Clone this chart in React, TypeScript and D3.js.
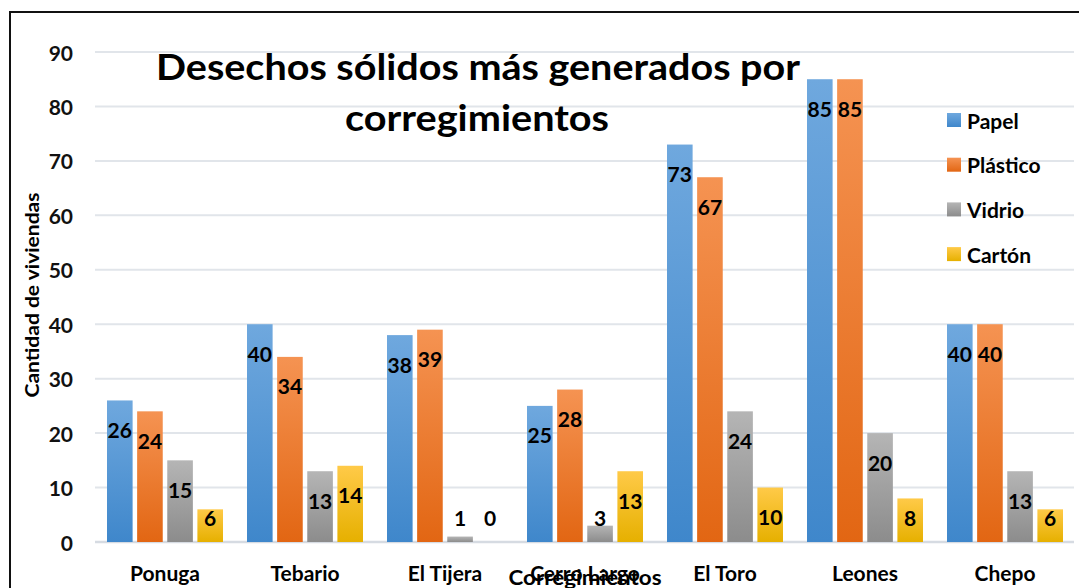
import React from "react";
import * as d3 from "d3";

const categories = ["Ponuga", "Tebario", "El Tijera", "Cerro Largo", "El Toro", "Leones", "Chepo"];
const seriesNames = ["Papel", "Plástico", "Vidrio", "Cartón"];
const papel = [26, 40, 38, 25, 73, 85, 40];
const plastico = [24, 34, 39, 28, 67, 85, 40];
const vidrio = [15, 13, 1, 3, 24, 20, 13];
const carton = [6, 14, 0, 13, 10, 8, 6];
const yTicks = [0, 10, 20, 30, 40, 50, 60, 70, 80, 90];

const seriesValues = [papel, plastico, vidrio, carton];
const gradients = [
  { id: "g-papel", top: "#6fa8de", bottom: "#3f87cb" },
  { id: "g-plastico", top: "#f59352", bottom: "#e26613" },
  { id: "g-vidrio", top: "#b5b5b5", bottom: "#8c8c8c" },
  { id: "g-carton", top: "#ffca48", bottom: "#e6b000" },
];

const FONT = "Lato, 'Open Sans', sans-serif";

export default function App() {
  const W = 1079;
  const H = 588;
  const plotLeft = 95;
  const plotRight = 1075;

  const y = d3.scaleLinear().domain([0, 90]).range([542, 52]);
  const x0 = d3.scaleBand<string>().domain(categories).range([plotLeft, plotRight]).padding(0);
  const x1 = d3
    .scaleBand<string>()
    .domain(seriesNames)
    .range([12, x0.bandwidth() - 12])
    .paddingInner(0.15);

  // labels sit just inside the bar top, but never lower than a minimum height
  const labelY = (v: number) => Math.min(y(v) + 29, 517);

  return (
    <svg
      width={W}
      height={H}
      style={{ position: "absolute", left: 0, top: 0, background: "#fff" }}
      fontFamily={FONT}
      fontWeight={700}
    >
      <defs>
        {gradients.map((g) => (
          <linearGradient key={g.id} id={g.id} x1="0" y1="0" x2="0" y2="1">
            <stop offset="0%" stopColor={g.top} />
            <stop offset="100%" stopColor={g.bottom} />
          </linearGradient>
        ))}
      </defs>
      <rect x={0} y={0} width={W} height={H} fill="#fff" />

      {/* gridlines */}
      {yTicks.map((t) => (
        <line
          key={t}
          x1={plotLeft}
          x2={1074}
          y1={y(t)}
          y2={y(t)}
          stroke={t === 0 ? "#d6dbe2" : "#e1e5ea"}
          strokeWidth={t === 0 ? 2.5 : 2}
        />
      ))}

      {/* y tick labels */}
      {yTicks.map((t) => (
        <text key={t} x={73} y={y(t)} textAnchor="end" dominantBaseline="central" fontSize={21} fill="#111">
          {t}
        </text>
      ))}

      {/* bars */}
      {categories.map((c, ci) => (
        <g key={c} transform={`translate(${x0(c)},0)`}>
          {seriesNames.map((s, si) => {
            const v = seriesValues[si][ci];
            return (
              <rect
                key={s}
                x={x1(s)}
                y={y(v)}
                width={x1.bandwidth()}
                height={y(0) - y(v)}
                fill={`url(#${gradients[si].id})`}
              />
            );
          })}
        </g>
      ))}

      {/* title */}
      <text x={478} y={80} textAnchor="middle" fontSize={37} fill="#000" textLength={644} lengthAdjust="spacingAndGlyphs">
        Desechos sólidos más generados por
      </text>
      <text x={477} y={131} textAnchor="middle" fontSize={37} fill="#000" textLength={264} lengthAdjust="spacingAndGlyphs">
        corregimientos
      </text>

      {/* data labels */}
      {categories.map((c, ci) => (
        <g key={c} transform={`translate(${x0(c)},0)`}>
          {seriesNames.map((s, si) => {
            const v = seriesValues[si][ci];
            return (
              <text
                key={s}
                x={(x1(s) ?? 0) + x1.bandwidth() / 2}
                y={labelY(v)}
                textAnchor="middle"
                dominantBaseline="central"
                fontSize={21}
                fill="#000"
              >
                {v}
              </text>
            );
          })}
        </g>
      ))}

      {/* legend */}
      {seriesNames.map((s, i) => (
        <g key={s} transform={`translate(947,${113 + i * 44.7})`}>
          <rect x={0} y={0} width={14} height={14} fill={`url(#${gradients[i].id})`} />
          <text x={20} y={7} dominantBaseline="central" fontSize={21} fill="#000">
            {s}
          </text>
        </g>
      ))}

      {/* category labels */}
      {categories.map((c) => (
        <text key={c} x={(x0(c) ?? 0) + x0.bandwidth() / 2} y={581} textAnchor="middle" fontSize={21} fill="#000">
          {c}
        </text>
      ))}

      {/* axis titles */}
      <text x={585} y={585} textAnchor="middle" fontSize={21} fill="#000" textLength={153} lengthAdjust="spacingAndGlyphs">
        Corregimientos
      </text>
      <text
        transform="translate(39,295) rotate(-90)"
        textAnchor="middle"
        fontSize={19}
        fill="#000"
        textLength={205}
        lengthAdjust="spacingAndGlyphs"
      >
        Cantidad de viviendas
      </text>

      {/* chart frame */}
      <rect x={10} y={12} width={1200} height={800} fill="none" stroke="#111" strokeWidth={2} />
    </svg>
  );
}
